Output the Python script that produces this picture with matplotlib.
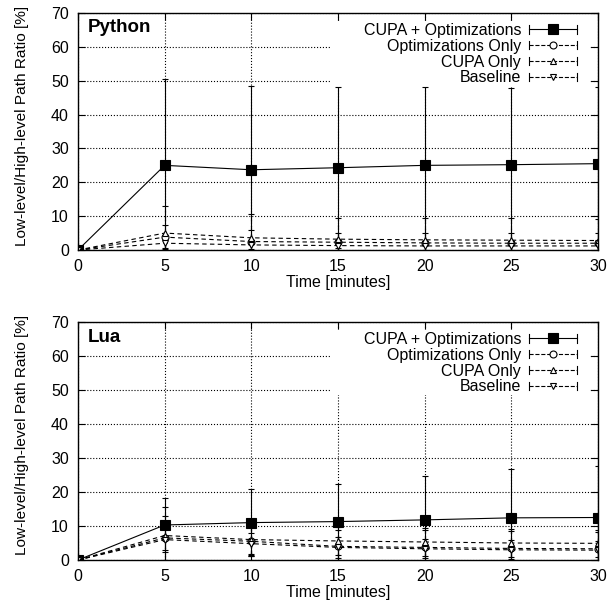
import numpy as np
import matplotlib.pyplot as plt
from matplotlib.lines import Line2D
from matplotlib.patches import Rectangle
from matplotlib.legend_handler import HandlerBase

plt.rcParams['font.family'] = ['Liberation Sans', 'DejaVu Sans']

# time axis
t = [0, 5, 10, 15, 20, 25, 30]
series_names = ['CUPA + Optimizations', 'Optimizations Only', 'CUPA Only', 'Baseline']

# Python
py_cupa_opt = [0, 25.0, 23.7, 24.3, 25.0, 25.2, 25.5]
py_cupa_opt_err = [0, 25.5, 24.8, 23.7, 23.0, 22.6, 22.5]
py_opt = [0, 3.8, 2.5, 2.3, 2.1, 2.0, 2.0]
py_opt_err = [0, 3.5, 3.4, 2.7, 2.9, 3.0, 3.0]
py_cupa = [0, 5.0, 3.6, 3.2, 3.0, 2.9, 2.8]
py_cupa_err = [0, 8.0, 6.9, 6.2, 6.4, 6.5, 6.5]
py_base = [0, 2.0, 1.5, 1.3, 1.2, 1.2, 1.2]
py_base_err = [0, 1.5, 1.3, 1.2, 1.2, 1.2, 1.2]

# Lua
lua_cupa_opt = [0, 10.3, 11.0, 11.3, 11.8, 12.4, 12.5]
lua_cupa_opt_err = [0, 7.8, 9.9, 11.2, 13.0, 14.3, 15.2]
lua_opt = [0, 6.5, 5.5, 4.0, 3.7, 3.4, 3.3]
lua_opt_err = [0, 6.4, 4.2, 4.8, 5.0, 5.0, 5.0]
lua_cupa = [0, 7.2, 6.0, 5.6, 5.3, 5.0, 4.9]
lua_cupa_err = [0, 8.5, 4.5, 4.2, 4.0, 4.0, 4.0]
lua_base = [0, 6.0, 4.8, 3.7, 3.3, 3.0, 2.9]
lua_base_err = [0, 3.1, 3.0, 3.0, 2.8, 2.8, 2.8]

FS = 11.5
dash = (0, (4, 3))
styles = [
    dict(marker='s', ms=7, mfc='black', ls='-'),
    dict(marker='o', ms=5, mfc='white', ls=dash),
    dict(marker='^', ms=5, mfc='white', ls=dash),
    dict(marker='v', ms=5, mfc='white', ls=dash),
]


class ErrHandler(HandlerBase):
    # gnuplot style key sample: line with end caps and the point in the middle
    def create_artists(self, legend, orig, xdescent, ydescent, width, height,
                       fontsize, trans):
        y = height / 2 - ydescent
        x0, x1 = -xdescent, width - xdescent
        ls = orig.get_linestyle()
        arts = [Line2D([x0, x1], [y, y], ls=ls, color='black', lw=0.8),
                Line2D([x0, x0], [y - 3, y + 3], color='black', lw=0.8),
                Line2D([x1, x1], [y - 3, y + 3], color='black', lw=0.8),
                Line2D([(x0 + x1) / 2], [y], ls='none', marker=orig.get_marker(),
                       ms=orig.get_markersize(), mfc=orig.get_markerfacecolor(),
                       mec='black', mew=0.8)]
        for a in arts:
            a.set_transform(trans)
        return arts


def draw(ax, title, vals, errs):
    handles = []
    for v, e, st in zip(vals, errs, styles):
        eb = ax.errorbar(t, v, yerr=e, color='black', lw=0.8, capsize=2.5,
                         elinewidth=0.8, capthick=0.8, marker=st['marker'],
                         ms=st['ms'], mfc=st['mfc'], mec='black', mew=0.8)
        eb[0].set_linestyle(st['ls'])
        for c in eb[2]:
            c.set_linestyle(st['ls'])
        handles.append(Line2D([], [], marker=st['marker'], ms=st['ms'],
                              mfc=st['mfc'], ls=st['ls'], color='black'))
    ax.set_xlim(0, 30)
    ax.set_ylim(0, 70)
    ax.set_xticks(t)
    ax.set_yticks(range(0, 71, 10))
    ax.grid(True, ls=':', color='black', lw=0.8)
    ax.set_axisbelow(True)
    ax.tick_params(direction='in', top=True, right=True, length=5,
                   labelsize=FS, pad=6.5)
    for s in ax.spines.values():
        s.set_linewidth(1.0)
    ax.set_xlabel('Time [minutes]', fontsize=FS, labelpad=0.5)
    ax.set_ylabel('Low-level/High-level Path Ratio [%]', fontsize=11.1)
    ax.yaxis.set_label_coords(-0.095, 0.525)
    ax.text(0.019, 0.918, title, transform=ax.transAxes, fontsize=13.5,
            fontweight='bold', va='baseline', ha='left')
    # white key area hiding the grid
    ax.add_patch(Rectangle((0.485, 0.692), 0.50, 0.274, transform=ax.transAxes,
                           facecolor='white', edgecolor='none', zorder=1))
    ax.legend(handles, series_names, loc='upper right',
              bbox_to_anchor=(0.9596, 0.958), markerfirst=False,
              handler_map={Line2D: ErrHandler()}, fontsize=FS, frameon=False,
              borderpad=0, labelspacing=0.05, handlelength=3.0,
              handletextpad=0.5, borderaxespad=0)


fig = plt.figure(figsize=(6.15, 6.08), dpi=100)
ax1 = fig.add_axes([78 / 615, 1 - 250 / 608, 520 / 615, 237 / 608])
ax2 = fig.add_axes([78 / 615, 1 - 560 / 608, 520 / 615, 238 / 608])
draw(ax1, 'Python', [py_cupa_opt, py_opt, py_cupa, py_base],
     [py_cupa_opt_err, py_opt_err, py_cupa_err, py_base_err])
draw(ax2, 'Lua', [lua_cupa_opt, lua_opt, lua_cupa, lua_base],
     [lua_cupa_opt_err, lua_opt_err, lua_cupa_err, lua_base_err])
fig.savefig('out.png', dpi=100)
